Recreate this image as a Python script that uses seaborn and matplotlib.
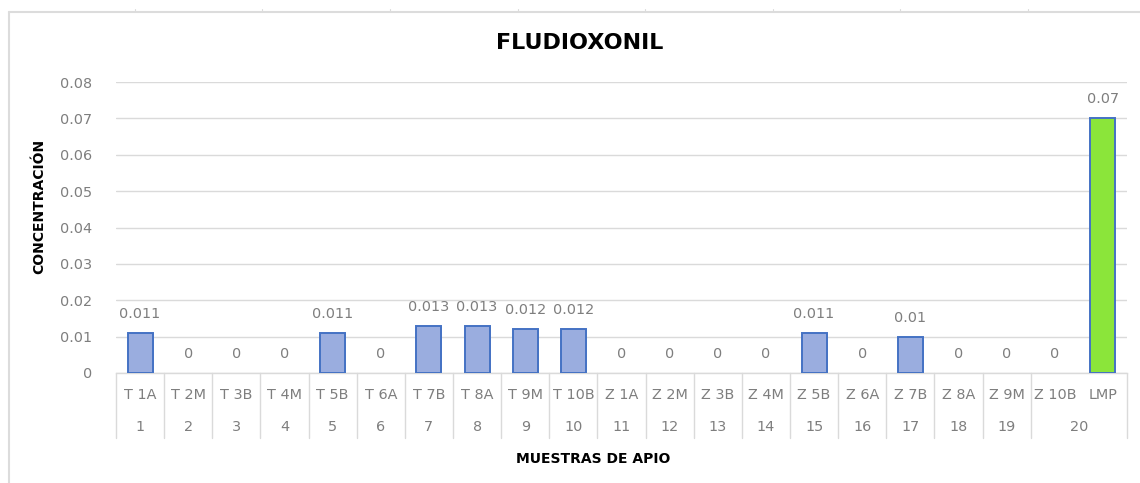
import numpy as np
import pandas as pd
import matplotlib
matplotlib.use("Agg")
import matplotlib.pyplot as plt
from matplotlib.lines import Line2D
from matplotlib.colors import LinearSegmentedColormap
import seaborn as sns

# ---------------- data ----------------
samples = ["T 1A", "T 2M", "T 3B", "T 4M", "T 5B", "T 6A", "T 7B", "T 8A", "T 9M", "T 10B",
           "Z 1A", "Z 2M", "Z 3B", "Z 4M", "Z 5B", "Z 6A", "Z 7B", "Z 8A", "Z 9M", "Z 10B", "LMP"]
values = [0.011, 0, 0, 0, 0.011, 0, 0.013, 0.013, 0.012, 0.012,
          0, 0, 0, 0, 0.011, 0, 0.01, 0, 0, 0, 0.07]
value_labels = ["0.011", "0", "0", "0", "0.011", "0", "0.013", "0.013", "0.012", "0.012",
                "0", "0", "0", "0", "0.011", "0", "0.01", "0", "0", "0", "0.07"]
groups = [str(i) for i in range(1, 20)] + ["20"]   # "20" spans Z 10B and LMP
yticks = [0, 0.01, 0.02, 0.03, 0.04, 0.05, 0.06, 0.07, 0.08]
ytick_labels = ["0", "0.01", "0.02", "0.03", "0.04", "0.05", "0.06", "0.07", "0.08"]

title = "FLUDIOXONIL"
xlabel = "MUESTRAS DE APIO"
ylabel = "CONCENTRACIÓN"

# ---------------- style ----------------
sns.set_theme(style="white")
plt.rcParams["font.family"] = ["DejaVu Sans"]

W, H = 1140, 483
fig = plt.figure(figsize=(W / 100, H / 100), dpi=100)
fig.patch.set_facecolor("white")

left, right, bottom, top = 116, 1127, 373, 82
ax = fig.add_axes([left / W, (H - bottom) / H, (right - left) / W, (bottom - top) / H])

text_gray = "#7e7e7e"
grid_gray = "#dadada"
edge_blue = "#4472c4"
bar_blue = "#9aaddf"
lmp_green = "#8be53a"
fs = 10.4

df = pd.DataFrame({"sample": samples, "value": values})
palette = [bar_blue] * (len(samples) - 1) + [lmp_green]
sns.barplot(data=df, x="sample", y="value", hue="sample", palette=palette, legend=False,
            width=0.52, saturation=1, edgecolor=edge_blue, linewidth=1.4, ax=ax, zorder=3)

# gradient fill for the blue bars; hide outlines of zero bars
cmap = LinearSegmentedColormap.from_list("g", ["#8a9fd8", "#adbce6"])
grad = np.linspace(0, 1, 64).reshape(-1, 1)
for i, p in enumerate(ax.patches):
    if p.get_height() <= 0:
        p.set_linewidth(0)
        p.set_edgecolor("none")
        continue
    if samples[i] == "LMP":
        continue
    x0, w, h = p.get_x(), p.get_width(), p.get_height()
    im = ax.imshow(grad, cmap=cmap, origin="lower", aspect="auto",
                   extent=[x0, x0 + w, 0, h], zorder=2.9)
    im.set_clip_path(p)
ax.set_xlim(-0.5, len(samples) - 0.5)
ax.set_ylim(0, 0.08)

# grid and axes
ax.set_yticks(yticks)
ax.set_yticklabels(ytick_labels)
ax.yaxis.grid(True, color=grid_gray, linewidth=1.0, zorder=0)
ax.xaxis.grid(False)
for s in ["top", "right", "left"]:
    ax.spines[s].set_visible(False)
ax.spines["bottom"].set_color(grid_gray)
ax.spines["bottom"].set_linewidth(1.0)
ax.tick_params(axis="y", length=0, pad=17, labelsize=fs, labelcolor=text_gray)
ax.tick_params(axis="x", length=0, pad=11, labelsize=fs, labelcolor=text_gray)
ax.set_xlabel("")
ax.set_ylabel("")

# value labels
for i, (v, lab) in enumerate(zip(values, value_labels)):
    ax.annotate(lab, (i, v), xytext=(0, 19), textcoords="offset pixels",
                ha="center", va="center", fontsize=fs, color=text_gray, zorder=5)

# second row (group numbers) and separators
trans = ax.get_xaxis_transform()
for i, g in enumerate(groups[:-1]):
    ax.annotate(g, (i, 0), xycoords=trans, xytext=(0, -54), textcoords="offset pixels",
                ha="center", va="center", fontsize=fs, color=text_gray, annotation_clip=False)
ax.annotate(groups[-1], (len(samples) - 1.5, 0), xycoords=trans, xytext=(0, -54),
            textcoords="offset pixels", ha="center", va="center", fontsize=fs,
            color=text_gray, annotation_clip=False)

sep_len = 65 / (bottom - top)
for k in range(len(samples) + 1):
    xk = k - 0.5
    if k == len(samples) - 1:
        continue
    ax.add_line(Line2D([xk, xk], [0, -sep_len * 0.08], transform=ax.transData,
                       color=grid_gray, linewidth=1.0, clip_on=False))

# titles
fig.text(580 / W, 1 - 43 / H, title, ha="center", va="center",
         fontsize=16, fontweight="bold", color="black")
fig.text(593 / W, 1 - 459 / H, xlabel, ha="center", va="center",
         fontsize=10, fontweight="bold", color="black")
fig.text(39 / W, 1 - 206 / H, ylabel, ha="center", va="center", rotation=90,
         fontsize=10, fontweight="bold", color="black")

# outer light frame (worksheet border)
frame_gray = "#dcdcdc"
fig.add_artist(Line2D([9 / W, 9 / W], [0, 1 - 12 / H], color=frame_gray, linewidth=1.5))
fig.add_artist(Line2D([9 / W, 1], [1 - 12 / H, 1 - 12 / H], color=frame_gray, linewidth=1.5))
for xt in [135, 262, 390, 518, 645, 773, 900, 1028]:
    fig.add_artist(Line2D([xt / W, xt / W], [1 - 12 / H, 1 - 9 / H], color=frame_gray, linewidth=0.8))

fig.savefig("out.png", dpi=100, facecolor="white")
